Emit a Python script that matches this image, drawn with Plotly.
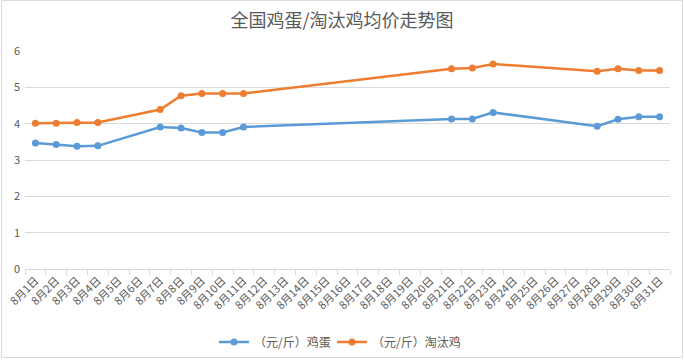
import plotly.graph_objects as go

categories = [f"8月{d}日" for d in range(1, 32)]

egg_days = [1, 2, 3, 4, 7, 8, 9, 10, 11, 21, 22, 23, 28, 29, 30, 31]
egg_values = [3.47, 3.43, 3.38, 3.39, 3.91, 3.88, 3.76, 3.76, 3.91,
              4.13, 4.13, 4.31, 3.93, 4.12, 4.19, 4.19]

hen_days = [1, 2, 3, 4, 7, 8, 9, 10, 11, 21, 22, 23, 28, 29, 30, 31]
hen_values = [4.01, 4.01, 4.03, 4.03, 4.39, 4.77, 4.83, 4.83, 4.83,
              5.51, 5.53, 5.64, 5.44, 5.51, 5.46, 5.46]

title_text = "全国鸡蛋/淘汰鸡均价走势图"
egg_name = "（元/斤）鸡蛋"
hen_name = "（元/斤）淘汰鸡"

FONT = "Noto Sans CJK SC, Microsoft YaHei, sans-serif"
GRAY = "#595959"

W, H = 684, 360
ML, MR, MT, MB = 25, 14, 51, 91
PW, PH = W - ML - MR, H - MT - MB

fig = go.Figure()
fig.add_trace(go.Scatter(
    x=[f"8月{d}日" for d in egg_days], y=egg_values, name=egg_name,
    mode="lines+markers", legend="legend",
    line=dict(color="#5B9BD5", width=2.5),
    marker=dict(color="#5B9BD5", size=7),
))
fig.add_trace(go.Scatter(
    x=[f"8月{d}日" for d in hen_days], y=hen_values, name=hen_name,
    mode="lines+markers", legend="legend2",
    line=dict(color="#ED7D31", width=2.5),
    marker=dict(color="#ED7D31", size=7),
))

# chart-area border
fig.add_shape(
    type="rect", xref="paper", yref="paper",
    x0=(-ML + 1.5) / PW, x1=1 + (MR - 1.5) / PW,
    y0=(-MB + 2.5) / PH, y1=1 + (MT - 0.5) / PH,
    line=dict(color="#D9D9D9", width=1), fillcolor="rgba(0,0,0,0)", layer="below",
)

legend_common = dict(orientation="h", xanchor="left", y=-0.335, yanchor="middle",
                     font=dict(family=FONT, size=12, color=GRAY), itemwidth=30,
                     bgcolor="rgba(0,0,0,0)")

fig.update_layout(
    width=W, height=H,
    margin=dict(l=ML, r=MR, t=MT, b=MB, autoexpand=False),
    paper_bgcolor="white", plot_bgcolor="white",
    font=dict(family=FONT, color=GRAY, size=11),
    title=dict(text=title_text, x=0.5, xanchor="center", y=0.942, yanchor="middle",
               font=dict(family=FONT, size=18, color=GRAY)),
    showlegend=True,
    legend=dict(x=(214 - ML) / PW, **legend_common),
    legend2=dict(x=(332 - ML) / PW, **legend_common),
    xaxis=dict(
        type="category", categoryorder="array", categoryarray=categories,
        range=[-0.5, len(categories) - 0.5], automargin=False,
        tickmode="array", tickvals=categories, ticktext=categories,
        tickangle=-45, tickson="boundaries", ticks="outside", ticklen=5,
        tickcolor="#D9D9D9", showline=True, linecolor="#D9D9D9", linewidth=1,
        showgrid=False, tickfont=dict(family=FONT, size=11, color=GRAY),
    ),
    yaxis=dict(
        range=[0, 6], dtick=1, tick0=0, showgrid=True, gridcolor="#D9D9D9",
        gridwidth=1, zeroline=False, showline=False, ticks="", automargin=False,
        tickfont=dict(family=FONT, size=11, color=GRAY), ticklabelstandoff=4,
    ),
)

fig.write_html("out.html", config={"displayModeBar": False},
               post_script="document.body.style.margin='0';")
